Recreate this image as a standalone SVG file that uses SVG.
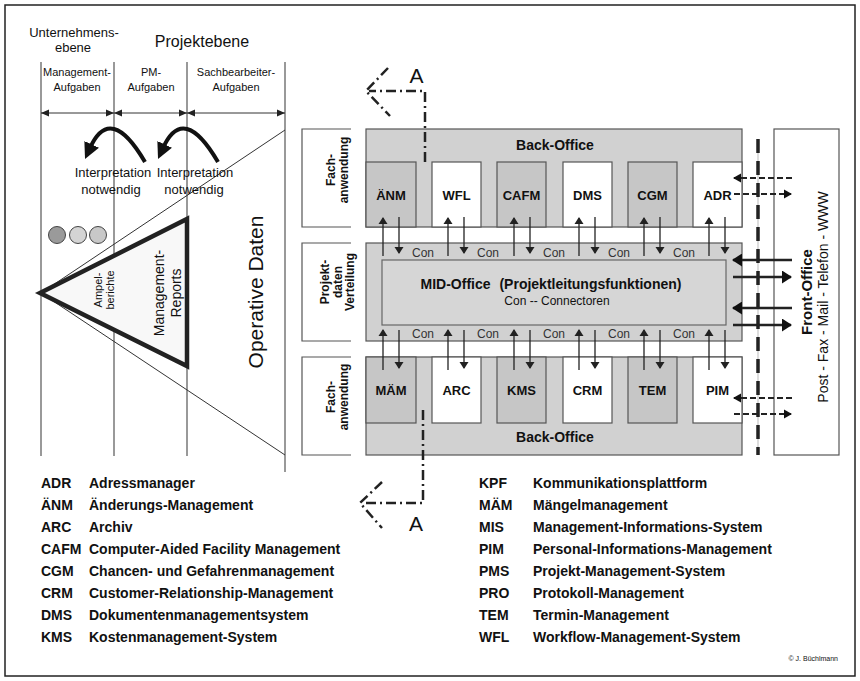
<svg xmlns="http://www.w3.org/2000/svg" width="860" height="681" viewBox="0 0 860 681">
<style>
text{font-family:"Liberation Sans",Arial,sans-serif;fill:#111}
.b{font-weight:bold}
.hdr{font-size:11px;text-anchor:middle}
.mod{font-size:13px;font-weight:bold;text-anchor:middle}
.con{font-size:12px;fill:#333}
.lg{font-size:14px;font-weight:bold}
.vl{stroke:#555;stroke-width:1.2;fill:none}
.thin{stroke:#333;stroke-width:1;fill:none}
.cn{stroke:#222;stroke-width:1.3;fill:none}
.gray{fill:#d1d1d1;stroke:#555;stroke-width:1.2}
.dk{fill:#c6c6c6;stroke:#555;stroke-width:1.2}
.wh{fill:#fff;stroke:#555;stroke-width:1.2}
.dd{stroke:#222;stroke-width:2;fill:none;stroke-dasharray:6 3}
.sa{stroke:#222;stroke-width:2.5;fill:none}
.sec{stroke:#222;stroke-width:2.5;fill:none;stroke-dasharray:10 4 2 4}
</style>
<defs>
<marker id="ah" markerUnits="userSpaceOnUse" markerWidth="8" markerHeight="8" refX="8" refY="4" orient="auto-start-reverse"><path d="M0,0.5 L8,4 L0,7.5 z" fill="#222"/></marker>
<marker id="ac" markerUnits="userSpaceOnUse" markerWidth="7" markerHeight="10" refX="6" refY="5" orient="auto"><path d="M0,0.5 L7,5 L0,9.5 z" fill="#222"/></marker>
<marker id="ab" markerUnits="userSpaceOnUse" markerWidth="16" markerHeight="16" refX="4" refY="8" orient="auto"><path d="M0,0 L16,8 L0,16 z" fill="#111"/></marker>
<marker id="as" markerUnits="userSpaceOnUse" markerWidth="10" markerHeight="13" refX="9" refY="6.5" orient="auto"><path d="M0,0 L10,6.5 L0,13 z" fill="#111"/></marker>
<marker id="ad" markerUnits="userSpaceOnUse" markerWidth="8" markerHeight="10" refX="7" refY="5" orient="auto"><path d="M0,0.5 L8,5 L0,9.5 z" fill="#111"/></marker>
</defs>
<rect x="5" y="5" width="850" height="671" fill="#fff" stroke="#222" stroke-width="1.5"/>

<!-- left part -->
<g id="levels">
<text x="74" y="37" font-size="13" text-anchor="middle">Unternehmens-</text>
<text x="73" y="52" font-size="13" text-anchor="middle">ebene</text>
<text x="202" y="47" font-size="16" text-anchor="middle">Projektebene</text>
<text class="hdr" x="77" y="76">Management-</text>
<text class="hdr" x="77" y="91">Aufgaben</text>
<text class="hdr" x="151" y="76">PM-</text>
<text class="hdr" x="151" y="91">Aufgaben</text>
<text class="hdr" x="236" y="76">Sachbearbeiter-</text>
<text class="hdr" x="236" y="91">Aufgaben</text>
</g>
<g id="columns">
<line class="vl" x1="41" y1="62" x2="41" y2="456"/>
<line class="vl" x1="114" y1="62" x2="114" y2="456"/>
<line class="vl" x1="187" y1="62" x2="187" y2="456"/>
<line class="vl" x1="285" y1="62" x2="285" y2="472" stroke="#333"/>
<line class="thin" x1="41" y1="113" x2="114" y2="113" marker-start="url(#ah)" marker-end="url(#ah)"/>
<line class="thin" x1="114" y1="113" x2="187" y2="113" marker-start="url(#ah)" marker-end="url(#ah)"/>
<line class="thin" x1="187" y1="113" x2="285" y2="113" marker-start="url(#ah)" marker-end="url(#ah)"/>
<line class="thin" x1="41" y1="293" x2="285" y2="130"/>
<line class="thin" x1="41" y1="293" x2="285" y2="455"/>
</g>
<g id="interpretation">
<path d="M145,162 Q110.5,103 90,148" fill="none" stroke="#111" stroke-width="4" marker-end="url(#ab)"/>
<path d="M218,162 Q183.5,103 163,148" fill="none" stroke="#111" stroke-width="4" marker-end="url(#ab)"/>
<text x="113" y="177" font-size="13" text-anchor="middle">Interpretation</text>
<text x="111" y="194" font-size="13" text-anchor="middle">notwendig</text>
<text x="195" y="177" font-size="13" text-anchor="middle">Interpretation</text>
<text x="194" y="194" font-size="13" text-anchor="middle">notwendig</text>
</g>
<g id="ampel">
<circle cx="57" cy="235" r="8.5" fill="#9a9a9a" stroke="#444" stroke-width="1"/>
<circle cx="78" cy="235" r="8.5" fill="#d4d4d4" stroke="#444" stroke-width="1"/>
<circle cx="98" cy="235" r="8.5" fill="#c8c8c8" stroke="#444" stroke-width="1"/>
</g>
<g id="pyramid">
<polygon points="40,293 187,219 187,366" fill="#f8f8f8" stroke="#222" stroke-width="4.5" stroke-linejoin="miter"/>
<g transform="translate(102,290) rotate(-90)"><text x="0" y="0" font-size="11" text-anchor="middle">Ampel-</text><text x="0" y="12" font-size="11" text-anchor="middle">berichte</text></g>
<g transform="translate(164,293) rotate(-90)"><text x="0" y="0" font-size="14" text-anchor="middle">Management-</text><text x="0" y="17" font-size="14" text-anchor="middle">Reports</text></g>
</g>
<g id="operative">
<text transform="translate(263,292) rotate(-90)" font-size="21" text-anchor="middle">Operative Daten</text>
</g>

<!-- side labels -->
<g id="lbl-fach-top">
<path class="vl" d="M351,129 H302 V227 H351"/>
<g transform="translate(335,170) rotate(-90)"><text class="b" font-size="12" text-anchor="middle">Fach-</text><text class="b" y="13" font-size="12" text-anchor="middle">anwendung</text></g>
</g>
<g id="lbl-verteilung">
<path class="vl" d="M351,243 H302 V341 H351"/>
<g transform="translate(329,282) rotate(-90)"><text class="b" font-size="12" text-anchor="middle">Projekt-</text><text class="b" y="12.5" font-size="12" text-anchor="middle">daten</text><text class="b" y="25" font-size="12" text-anchor="middle">Verteilung</text></g>
</g>
<g id="lbl-fach-bottom">
<path class="vl" d="M351,357 H302 V455 H351"/>
<g transform="translate(335,397) rotate(-90)"><text class="b" font-size="12" text-anchor="middle">Fach-</text><text class="b" y="13" font-size="12" text-anchor="middle">anwendung</text></g>
</g>

<!-- back office top -->
<g id="backoffice-top">
<rect class="gray" x="366" y="129" width="376" height="98"/>
<text class="b" x="555" y="150" font-size="14" text-anchor="middle">Back-Office</text>
</g>
<g id="m-anm"><rect class="dk" x="366" y="162" width="50" height="65"/><text class="mod" x="391" y="200">ÄNM</text></g>
<g id="m-wfl"><rect class="wh" x="432" y="162" width="49" height="65"/><text class="mod" x="456.5" y="200">WFL</text></g>
<g id="m-cafm"><rect class="dk" x="497" y="162" width="49" height="65"/><text class="mod" x="521.5" y="200">CAFM</text></g>
<g id="m-dms"><rect class="wh" x="563" y="162" width="49" height="65"/><text class="mod" x="587.5" y="200">DMS</text></g>
<g id="m-cgm"><rect class="dk" x="628" y="162" width="49" height="65"/><text class="mod" x="652.5" y="200">CGM</text></g>
<g id="m-adr"><rect class="wh" x="693" y="162" width="49" height="65"/><text class="mod" x="717.5" y="200">ADR</text></g>

<!-- mid office -->
<g id="mid-office">
<rect class="gray" x="366" y="243" width="376" height="98"/>
<rect x="382" y="260" width="344" height="65" fill="#d6d6d6" stroke="#666" stroke-width="1.2"/>
<text class="b" x="551" y="289" font-size="14" text-anchor="middle">MID-Office <tspan dx="5">(Projektleitungsfunktionen)</tspan></text>
<text x="557" y="305" font-size="12" text-anchor="middle" fill="#333">Con -- Connectoren</text>
</g>

<!-- back office bottom -->
<g id="backoffice-bottom">
<rect class="gray" x="366" y="357" width="376" height="98"/>
<text class="b" x="555" y="442" font-size="14" text-anchor="middle">Back-Office</text>
</g>
<g id="m-mam"><rect class="dk" x="366" y="357" width="50" height="66"/><text class="mod" x="391" y="395">MÄM</text></g>
<g id="m-arc"><rect class="wh" x="432" y="357" width="49" height="66"/><text class="mod" x="456.5" y="395">ARC</text></g>
<g id="m-kms"><rect class="dk" x="497" y="357" width="49" height="66"/><text class="mod" x="521.5" y="395">KMS</text></g>
<g id="m-crm"><rect class="wh" x="563" y="357" width="49" height="66"/><text class="mod" x="587.5" y="395">CRM</text></g>
<g id="m-tem"><rect class="dk" x="628" y="357" width="49" height="66"/><text class="mod" x="652.5" y="395">TEM</text></g>
<g id="m-pim"><rect class="wh" x="693" y="357" width="49" height="66"/><text class="mod" x="717.5" y="395">PIM</text></g>

<!-- front office -->
<g id="front-office">
<rect class="wh" x="774" y="129" width="65" height="326"/>
<text class="b" transform="translate(812,292) rotate(-90)" font-size="15" text-anchor="middle">Front-Office</text>
<text transform="translate(828,297) rotate(-90)" font-size="14" text-anchor="middle">Post - Fax - Mail - Telefon - WWW</text>
</g>

<!-- connectors -->
<g id="connectors">
<line class="cn" x1="383" y1="256" x2="383" y2="218" marker-end="url(#ac)"/>
<line class="cn" x1="399" y1="217" x2="399" y2="253" marker-end="url(#ac)"/>
<line class="cn" x1="448" y1="256" x2="448" y2="218" marker-end="url(#ac)"/>
<line class="cn" x1="464" y1="217" x2="464" y2="253" marker-end="url(#ac)"/>
<line class="cn" x1="514" y1="256" x2="514" y2="218" marker-end="url(#ac)"/>
<line class="cn" x1="530" y1="217" x2="530" y2="253" marker-end="url(#ac)"/>
<line class="cn" x1="579" y1="256" x2="579" y2="218" marker-end="url(#ac)"/>
<line class="cn" x1="595" y1="217" x2="595" y2="253" marker-end="url(#ac)"/>
<line class="cn" x1="644" y1="256" x2="644" y2="218" marker-end="url(#ac)"/>
<line class="cn" x1="660" y1="217" x2="660" y2="253" marker-end="url(#ac)"/>
<line class="cn" x1="709" y1="256" x2="709" y2="218" marker-end="url(#ac)"/>
<line class="cn" x1="725" y1="217" x2="725" y2="253" marker-end="url(#ac)"/>

<line class="cn" x1="383" y1="370" x2="383" y2="330" marker-end="url(#ac)"/>
<line class="cn" x1="399" y1="330" x2="399" y2="368" marker-end="url(#ac)"/>
<line class="cn" x1="448" y1="370" x2="448" y2="330" marker-end="url(#ac)"/>
<line class="cn" x1="464" y1="330" x2="464" y2="368" marker-end="url(#ac)"/>
<line class="cn" x1="514" y1="370" x2="514" y2="330" marker-end="url(#ac)"/>
<line class="cn" x1="530" y1="330" x2="530" y2="368" marker-end="url(#ac)"/>
<line class="cn" x1="579" y1="370" x2="579" y2="330" marker-end="url(#ac)"/>
<line class="cn" x1="595" y1="330" x2="595" y2="368" marker-end="url(#ac)"/>
<line class="cn" x1="644" y1="370" x2="644" y2="330" marker-end="url(#ac)"/>
<line class="cn" x1="660" y1="330" x2="660" y2="368" marker-end="url(#ac)"/>
<line class="cn" x1="709" y1="370" x2="709" y2="330" marker-end="url(#ac)"/>
<line class="cn" x1="725" y1="330" x2="725" y2="368" marker-end="url(#ac)"/>

<text class="con" x="412" y="257">Con</text>
<text class="con" x="477" y="257">Con</text>
<text class="con" x="543" y="257">Con</text>
<text class="con" x="608" y="257">Con</text>
<text class="con" x="673" y="257">Con</text>
<text class="con" x="412" y="338">Con</text>
<text class="con" x="477" y="338">Con</text>
<text class="con" x="543" y="338">Con</text>
<text class="con" x="608" y="338">Con</text>
<text class="con" x="673" y="338">Con</text>

<line x1="758" y1="139" x2="758" y2="455" stroke="#bbb" stroke-width="1"/>
<line x1="758" y1="139" x2="758" y2="455" stroke="#222" stroke-width="3.5" stroke-dasharray="14 8"/>

<line class="dd" x1="792" y1="178" x2="734" y2="178" marker-end="url(#ad)"/>
<line class="dd" x1="734" y1="194" x2="791" y2="194" marker-end="url(#ad)"/>
<line class="dd" x1="792" y1="398" x2="734" y2="398" marker-end="url(#ad)"/>
<line class="dd" x1="734" y1="414" x2="791" y2="414" marker-end="url(#ad)"/>

<line class="sa" x1="792" y1="260" x2="733" y2="260" marker-end="url(#as)"/>
<line class="sa" x1="733" y1="277" x2="791" y2="277" marker-end="url(#as)"/>
<line class="sa" x1="792" y1="308" x2="733" y2="308" marker-end="url(#as)"/>
<line class="sa" x1="733" y1="325" x2="791" y2="325" marker-end="url(#as)"/>
</g>

<!-- section A-A -->
<g id="section-a-top">
<path class="sec" d="M425,162 V91 H369"/>
<path class="sec" d="M388,68 L366,91 L390,116" stroke-dasharray="8 4 2 4"/>
<text x="416.5" y="83" font-size="21" text-anchor="middle">A</text>
</g>
<g id="section-a-bottom">
<path class="sec" d="M423,410 V503 H363"/>
<path class="sec" d="M382,482 L360,503 L382,528" stroke-dasharray="8 4 2 4"/>
<text x="416" y="531" font-size="21" text-anchor="middle">A</text>
</g>

<!-- legend -->
<g id="legend-left">
<text class="lg" x="41" y="488">ADR</text><text class="lg" x="89" y="488">Adressmanager</text>
<text class="lg" x="41" y="510">ÄNM</text><text class="lg" x="89" y="510">Änderungs-Management</text>
<text class="lg" x="41" y="532">ARC</text><text class="lg" x="89" y="532">Archiv</text>
<text class="lg" x="41" y="554">CAFM</text><text class="lg" x="89" y="554">Computer-Aided Facility Management</text>
<text class="lg" x="41" y="576">CGM</text><text class="lg" x="89" y="576">Chancen- und Gefahrenmanagement</text>
<text class="lg" x="41" y="598">CRM</text><text class="lg" x="89" y="598">Customer-Relationship-Management</text>
<text class="lg" x="41" y="620">DMS</text><text class="lg" x="89" y="620">Dokumentenmanagementsystem</text>
<text class="lg" x="41" y="642">KMS</text><text class="lg" x="89" y="642">Kostenmanagement-System</text>
</g>
<g id="legend-right">
<text class="lg" x="479" y="488">KPF</text><text class="lg" x="533" y="488">Kommunikationsplattform</text>
<text class="lg" x="479" y="510">MÄM</text><text class="lg" x="533" y="510">Mängelmanagement</text>
<text class="lg" x="479" y="532">MIS</text><text class="lg" x="533" y="532">Management-Informations-System</text>
<text class="lg" x="479" y="554">PIM</text><text class="lg" x="533" y="554">Personal-Informations-Management</text>
<text class="lg" x="479" y="576">PMS</text><text class="lg" x="533" y="576">Projekt-Management-System</text>
<text class="lg" x="479" y="598">PRO</text><text class="lg" x="533" y="598">Protokoll-Management</text>
<text class="lg" x="479" y="620">TEM</text><text class="lg" x="533" y="620">Termin-Management</text>
<text class="lg" x="479" y="642">WFL</text><text class="lg" x="533" y="642">Workflow-Management-System</text>
</g>
<text x="838" y="661" font-size="7" text-anchor="end" fill="#333">© J. Büchlmann</text>
</svg>
